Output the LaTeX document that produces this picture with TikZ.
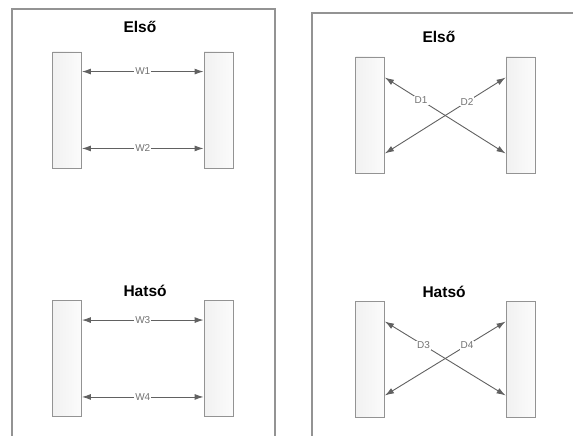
\documentclass[tikz,border=0pt]{standalone}
\usepackage{fontspec}
\setmainfont{Liberation Sans}
\usetikzlibrary{arrows.meta}

\begin{document}
\begin{tikzpicture}[x=1pt, y=-1pt,
    panel/.style={draw=framecolor, line width=1.4pt},
    post/.style={draw=postcolor, line width=0.9pt, left color=gray!11, right color=gray!3,
        minimum width=29pt, minimum height=116pt, inner sep=0pt},
    title/.style={anchor=base west, font=\fontsize{15.5}{18}\selectfont\bfseries},
    link/.style={draw=linkcolor, line width=0.9pt, {Latex[length=9pt,width=6pt]}-{Latex[length=9pt,width=6pt]}},
    tag/.style={fill=white, inner sep=1pt, text=tagcolor, font=\fontsize{10}{11}\selectfont}]
        % Define colors
        \colorlet{framecolor}{gray!85}
        \colorlet{postcolor}{gray!85}
        \colorlet{linkcolor}{black!62}
        \colorlet{tagcolor}{black!55}

        \useasboundingbox (0,0) rectangle (573,436);
        \clip (0,0) rectangle (573,436);

        % 1. Left panel (parallel)
        \draw[panel] (12,460) -- (12,9) -- (275,9) -- (275,460);

        \node[title] (tf1) at (120,33) {Első};
        \node[post] (la) at (67,110) {};
        \node[post] (ra) at (218.5,110) {};
        \draw[link] ([yshift=-20pt]la.north east) -- ([yshift=-20pt]ra.north west) node[tag, midway] (w1) {W1};
        \draw[link] ([yshift=20pt]la.south east) -- ([yshift=20pt]ra.south west) node[tag, midway] (w2) {W2};

        \node[title] (tr1) at (120,296) {Hatsó};
        \node[post] (lb) at (67,358.5) {};
        \node[post] (rb) at (218.5,358.5) {};
        \draw[link] ([yshift=-20pt]lb.north east) -- ([yshift=-20pt]rb.north west) node[tag, midway] (w3) {W3};
        \draw[link] ([yshift=20pt]lb.south east) -- ([yshift=20pt]rb.south west) node[tag, midway] (w4) {W4};

        % 2. Right panel (diagonal)
        \draw[panel] (312,460) -- (312,13) -- (600,13);

        \node[title] (tf2) at (419,43) {Első};
        \node[post] (lc) at (370,115) {};
        \node[post] (rc) at (520.5,115) {};
        \draw[link] ([yshift=-21pt]lc.north east) -- ([yshift=20pt]rc.south west) node[tag, pos=0.3] (d1) {D1};
        \draw[link] ([yshift=-21pt]rc.north west) -- ([yshift=20pt]lc.south east) node[tag, pos=0.32] (d2) {D2};

        \node[title] (tr2) at (419,297) {Hatsó};
        \node[post] (ld) at (370,359) {};
        \node[post] (rd) at (520.5,359) {};
        \draw[link] ([yshift=-21pt]ld.north east) -- ([yshift=22pt]rd.south west) node[tag, pos=0.32] (d3) {D3};
        \draw[link] ([yshift=-21pt]rd.north west) -- ([yshift=22pt]ld.south east) node[tag, pos=0.32] (d4) {D4};

    \end{tikzpicture}
\end{document}
